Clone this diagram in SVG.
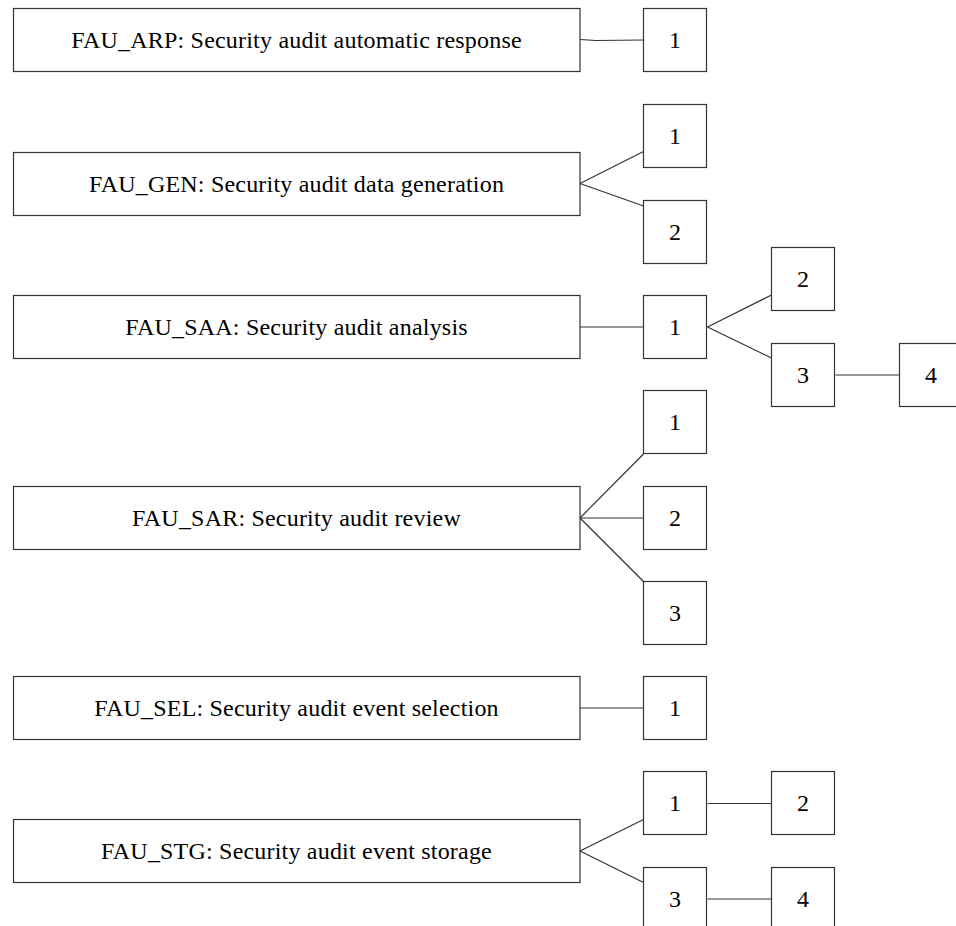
<svg xmlns="http://www.w3.org/2000/svg" width="956" height="926" viewBox="0 0 956 926">
<style>
.box{fill:#fff;stroke:#333;stroke-width:1.2}
.edge{fill:none;stroke:#333;stroke-width:1.2}
text{font-family:"Liberation Serif","Times New Roman",serif;font-size:24px;letter-spacing:0.2px;fill:#000;text-anchor:middle}
</style>
<rect width="956" height="926" fill="#fff"/>
<g id="connectors">
<path class="edge" d="M580,39.5 L596,40.5 L643.5,40"/>
<path class="edge" d="M580,183.5 L643.5,151.5"/>
<path class="edge" d="M580,183.5 L643.5,206"/>
<path class="edge" d="M580,327 L643.5,327"/>
<path class="edge" d="M707.5,327 L771.5,295"/>
<path class="edge" d="M707.5,327 L771.5,358"/>
<path class="edge" d="M835.5,375 L899.5,375"/>
<path class="edge" d="M580,518 L643.5,454"/>
<path class="edge" d="M580,518 L643.5,518"/>
<path class="edge" d="M580,518 L643.5,581.5"/>
<path class="edge" d="M580,708 L643.5,708"/>
<path class="edge" d="M580,851 L643.5,819.5"/>
<path class="edge" d="M580,851 L643.5,882.5"/>
<path class="edge" d="M707.5,803.5 L771.5,803.5"/>
<path class="edge" d="M707.5,899 L771.5,899"/>
</g>
<g id="FAU_ARP"><rect class="box" x="13.5" y="8.5" width="566.5" height="63"/><text x="296.5" y="48">FAU_ARP: Security audit automatic response</text></g>
<g id="FAU_ARP_1"><rect class="box" x="643.5" y="8.5" width="63" height="63"/><text x="675" y="48">1</text></g>
<g id="FAU_GEN"><rect class="box" x="13.5" y="152.5" width="566.5" height="63"/><text x="296.5" y="192">FAU_GEN: Security audit data generation</text></g>
<g id="FAU_GEN_1"><rect class="box" x="643.5" y="104.5" width="63" height="63"/><text x="675" y="144">1</text></g>
<g id="FAU_GEN_2"><rect class="box" x="643.5" y="200.5" width="63" height="63"/><text x="675" y="240">2</text></g>
<g id="FAU_SAA"><rect class="box" x="13.5" y="295.5" width="566.5" height="63"/><text x="296.5" y="335">FAU_SAA: Security audit analysis</text></g>
<g id="FAU_SAA_1"><rect class="box" x="643.5" y="295.5" width="63" height="63"/><text x="675" y="335">1</text></g>
<g id="FAU_SAA_2"><rect class="box" x="771.5" y="247.5" width="63" height="63"/><text x="803" y="287">2</text></g>
<g id="FAU_SAA_3"><rect class="box" x="771.5" y="343.5" width="63" height="63"/><text x="803" y="383">3</text></g>
<g id="FAU_SAA_4"><rect class="box" x="899.5" y="343.5" width="63" height="63"/><text x="931" y="383">4</text></g>
<g id="FAU_SAR"><rect class="box" x="13.5" y="486.5" width="566.5" height="63"/><text x="296.5" y="526">FAU_SAR: Security audit review</text></g>
<g id="FAU_SAR_1"><rect class="box" x="643.5" y="390.5" width="63" height="63"/><text x="675" y="430">1</text></g>
<g id="FAU_SAR_2"><rect class="box" x="643.5" y="486.5" width="63" height="63"/><text x="675" y="526">2</text></g>
<g id="FAU_SAR_3"><rect class="box" x="643.5" y="581.5" width="63" height="63"/><text x="675" y="621">3</text></g>
<g id="FAU_SEL"><rect class="box" x="13.5" y="676.5" width="566.5" height="63"/><text x="296.5" y="716">FAU_SEL: Security audit event selection</text></g>
<g id="FAU_SEL_1"><rect class="box" x="643.5" y="676.5" width="63" height="63"/><text x="675" y="716">1</text></g>
<g id="FAU_STG"><rect class="box" x="13.5" y="819.5" width="566.5" height="63"/><text x="296.5" y="859">FAU_STG: Security audit event storage</text></g>
<g id="FAU_STG_1"><rect class="box" x="643.5" y="771.5" width="63" height="63"/><text x="675" y="811">1</text></g>
<g id="FAU_STG_2"><rect class="box" x="771.5" y="771.5" width="63" height="63"/><text x="803" y="811">2</text></g>
<g id="FAU_STG_3"><rect class="box" x="643.5" y="867.5" width="63" height="63"/><text x="675" y="907">3</text></g>
<g id="FAU_STG_4"><rect class="box" x="771.5" y="867.5" width="63" height="63"/><text x="803" y="907">4</text></g>
</svg>
